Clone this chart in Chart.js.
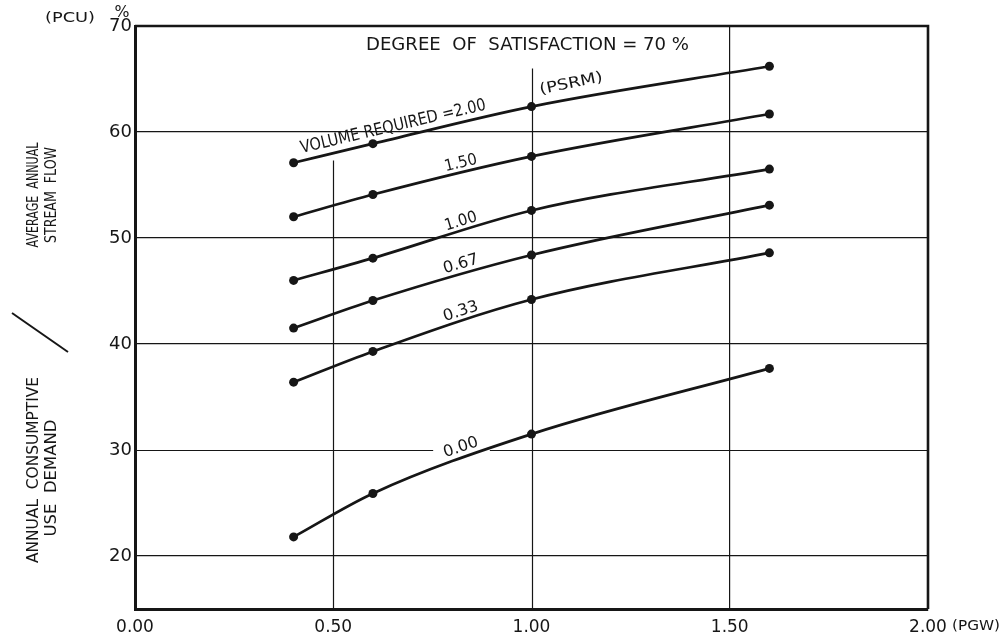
<!DOCTYPE html>
<html>
<head>
<meta charset="utf-8">
<script src="https://cdn.jsdelivr.net/npm/chart.js@4/dist/chart.umd.min.js"></script>
<style>
  html, body { margin: 0; padding: 0; background: #fff; }
  #wrap { width: 1006px; height: 639px; }
</style>
</head>
<body>
<div id="wrap"><canvas id="chart" width="1006" height="639"></canvas></div>
<script>
// Ground-water volume (PGW) on the horizontal axis
const pgw = [0.40, 0.60, 1.00, 1.60];

// Surface reservoir volume required (PSRM), one curve each
const volumeLevels = ['2.00', '1.50', '1.00', '0.67', '0.33', '0.00'];
const use200 = [57.1, 58.9, 62.4, 66.2];
const use150 = [52.0, 54.1, 57.7, 61.7];
const use100 = [46.0, 48.1, 52.6, 56.5];
const use067 = [41.5, 44.1, 48.4, 53.1];
const use033 = [36.4, 39.3, 44.2, 48.6];
const use000 = [21.8, 25.9, 31.5, 37.7];

// Axis ticks
const xTicks = [0, 0.5, 1.0, 1.5, 2.0];
const yTicks = [20, 30, 40, 50, 60, 70];

const seriesValues = [use200, use150, use100, use067, use033, use000];

const INK = '#161616';
const FONT = '"DejaVu Sans", "Liberation Sans", sans-serif';
const RULE = 1.2;

// Vertical rulings that stop short of the top edge (x value, top y value)
const partialGrid = [
  { at: 0.5, upTo: 57.3 },
  { at: 1.0, upTo: 66.0 }
];
// Horizontal ruling broken where the lowest curve is lettered
const brokenGrid = [
  { at: 30, gapFrom: 0.752, gapTo: 0.895 }
];

// Lettering along the curves
const curveLabels = [
  { series: 0, text: 'VOLUME REQUIRED =2.00', at: 0.651, lift: 12, size: 17, width: 190, seg: [0, 2], tilt: 0 },
  { series: 0, text: '(PSRM)', at: 1.10, lift: 16, size: 15, width: 64, seg: [2, 3], tilt: -2 },
  { series: 1, text: '1.50', at: 0.822, lift: 10, size: 16, width: 33, seg: [1, 2], tilt: 0 },
  { series: 2, text: '1.00', at: 0.822, lift: 10, size: 16, width: 33, seg: [1, 2], tilt: 0 },
  { series: 3, text: '0.67', at: 0.822, lift: 11, size: 16, width: 36, seg: [1, 2], tilt: 0 },
  { series: 4, text: '0.33', at: 0.822, lift: 11, size: 16, width: 36, seg: [1, 2], tilt: 0 },
  { series: 5, text: '0.00', at: 0.822, lift: 13, size: 16, width: 36, seg: [1, 2], tilt: 2 }
];

function drawFitted(ctx, text, cx, cy, angle, size, width) {
  ctx.save();
  ctx.translate(cx, cy);
  ctx.rotate(angle);
  ctx.font = size + 'px ' + FONT;
  const natural = ctx.measureText(text).width;
  const sx = width ? width / natural : 1;
  ctx.scale(sx, 1);
  ctx.fillStyle = INK;
  ctx.textAlign = 'center';
  ctx.textBaseline = 'middle';
  ctx.fillText(text, 0, 0);
  ctx.restore();
}

function line(ctx, x0, y0, x1, y1) {
  ctx.beginPath();
  ctx.moveTo(x0, y0);
  ctx.lineTo(x1, y1);
  ctx.stroke();
}

const annotate = {
  id: 'annotate',
  beforeDatasetsDraw(chart) {
    const { ctx, chartArea: a, scales: { x, y } } = chart;
    ctx.save();
    ctx.strokeStyle = INK;
    ctx.lineWidth = RULE;
    partialGrid.forEach(g => {
      const px = Math.round(x.getPixelForValue(g.at)) + 0.5;
      line(ctx, px, a.bottom, px, y.getPixelForValue(g.upTo));
    });
    brokenGrid.forEach(g => {
      const py = Math.round(y.getPixelForValue(g.at)) + 0.5;
      line(ctx, a.left, py, x.getPixelForValue(g.gapFrom), py);
      line(ctx, x.getPixelForValue(g.gapTo), py, a.right, py);
    });
    // top and right edges of the frame
    ctx.lineWidth = 2.6;
    ctx.beginPath();
    ctx.moveTo(a.left, a.top);
    ctx.lineTo(a.right, a.top);
    ctx.lineTo(a.right, a.bottom);
    ctx.stroke();
    ctx.restore();

    // heading inside the plot
    drawFitted(ctx, 'DEGREE  OF  SATISFACTION = 70 %',
      x.getPixelForValue(0.99), y.getPixelForValue(68.2), 0, 17, 323);

    // curve lettering
    curveLabels.forEach(l => {
      const vals = seriesValues[l.series];
      const px = x.getPixelForValue(l.at);
      let i = 0;
      while (i < pgw.length - 2 && pgw[i + 1] < l.at) i++;
      const x0 = x.getPixelForValue(pgw[i]), x1 = x.getPixelForValue(pgw[i + 1]);
      const y0 = y.getPixelForValue(vals[i]), y1 = y.getPixelForValue(vals[i + 1]);
      const py = y0 + (y1 - y0) * (px - x0) / (x1 - x0);
      const ax0 = x.getPixelForValue(pgw[l.seg[0]]), ax1 = x.getPixelForValue(pgw[l.seg[1]]);
      const ay0 = y.getPixelForValue(vals[l.seg[0]]), ay1 = y.getPixelForValue(vals[l.seg[1]]);
      const ang = Math.atan2(ay1 - ay0, ax1 - ax0) + l.tilt * Math.PI / 180;
      drawFitted(ctx, l.text, px, py - l.lift, ang, l.size, l.width);
    });
  },
  afterDraw(chart) {
    const { ctx } = chart;
    // unit marks
    drawFitted(ctx, '(PCU)', 70, 18, 0, 14, 50);
    drawFitted(ctx, '%', 122, 13, 0, 15, 15);
    drawFitted(ctx, '(PGW)', 976, 626, 0, 14, 48);

    // vertical axis caption: ratio of use demand to stream flow
    const up = -Math.PI / 2;
    drawFitted(ctx, 'AVERAGE  ANNUAL', 34, 195, up, 16, 105);
    drawFitted(ctx, 'STREAM  FLOW', 52, 195, up, 16, 96);
    drawFitted(ctx, 'ANNUAL  CONSUMPTIVE', 34, 470, up, 16, 186);
    drawFitted(ctx, 'USE  DEMAND', 52, 478, up, 16, 117);
    ctx.save();
    ctx.strokeStyle = INK;
    ctx.lineWidth = 2;
    line(ctx, 12, 313, 68, 352);
    ctx.restore();
  }
};

const datasets = volumeLevels.map((lvl, k) => ({
  label: lvl,
  data: pgw.map((p, i) => ({ x: p, y: seriesValues[k][i] })),
  borderColor: INK,
  backgroundColor: INK,
  borderWidth: 2.7,
  pointRadius: 4.5,
  pointBorderWidth: 0,
  pointBackgroundColor: INK,
  cubicInterpolationMode: 'monotone',
  fill: false
}));

new Chart(document.getElementById('chart'), {
  type: 'line',
  data: { datasets },
  plugins: [annotate],
  options: {
    responsive: false,
    animation: false,
    devicePixelRatio: 1,
    layout: { padding: { top: 26, right: 78, bottom: 0, left: 0 } },
    plugins: { legend: { display: false }, tooltip: { enabled: false } },
    scales: {
      x: {
        type: 'linear',
        min: 0,
        max: 2,
        afterBuildTicks: s => { s.ticks = xTicks.map(v => ({ value: v })); },
        afterFit: s => { s.height = 30; },
        ticks: {
          color: INK,
          padding: 8,
          maxRotation: 0,
          font: { family: FONT, size: 17 },
          callback: v => v.toFixed(2)
        },
        grid: {
          drawTicks: false,
          lineWidth: RULE,
          color: c => {
            const v = c.tick ? c.tick.value : null;
            if (v === 0 || v === 2) return 'rgba(0,0,0,0)';
            if (partialGrid.some(g => g.at === v)) return 'rgba(0,0,0,0)';
            return INK;
          }
        },
        border: { display: true, color: INK, width: 3 }
      },
      y: {
        type: 'linear',
        min: 15,
        max: 70,
        afterBuildTicks: s => { s.ticks = yTicks.map(v => ({ value: v })); },
        afterFit: s => { s.width = 135; },
        ticks: {
          color: INK,
          padding: 3,
          font: { family: FONT, size: 18 },
          callback: v => String(v)
        },
        grid: {
          drawTicks: false,
          lineWidth: RULE,
          color: c => {
            const v = c.tick ? c.tick.value : null;
            if (v === 70) return 'rgba(0,0,0,0)';
            if (brokenGrid.some(g => g.at === v)) return 'rgba(0,0,0,0)';
            return INK;
          }
        },
        border: { display: true, color: INK, width: 3 }
      }
    }
  }
});
</script>
</body>
</html>
